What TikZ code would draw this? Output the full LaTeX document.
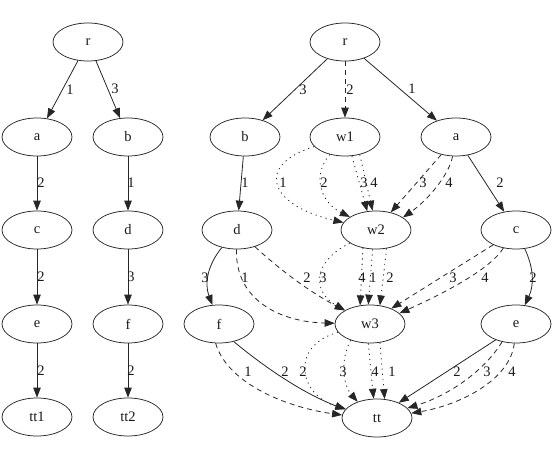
\documentclass[tikz,border=0pt]{standalone}
\usepackage{fontspec}
\setmainfont{Liberation Serif}
\usetikzlibrary{arrows.meta, shapes.geometric}

\begin{document}
\begin{tikzpicture}[x=1pt, y=1pt, every node/.style={font=\fontsize{14.5}{16}\selectfont, text=black!90}]
  \tikzset{vertex/.style={draw=black!85, line width=0.75pt, ellipse, minimum width=70pt, minimum height=38pt, inner sep=0pt},
    link/.style={draw=black!85, line width=0.8pt, -{Triangle[length=10pt, width=7.5pt]}},
    dashlink/.style={link, dash pattern=on 5pt off 4pt},
    dotlink/.style={link, dash pattern=on 1.2pt off 4pt},
    lbl/.style={inner sep=0pt}}
  \useasboundingbox (0,0) rectangle (556,-465);
  % left tree
  \node[vertex] (r1) at (88,-42) {r};
  \node[vertex] (a1) at (37,-137) {a};
  \node[vertex] (b1) at (128,-137) {b};
  \node[vertex] (c1) at (37,-230) {c};
  \node[vertex] (d1) at (128,-230) {d};
  \node[vertex] (e1) at (37,-324) {e};
  \node[vertex] (f1) at (128,-324) {f};
  \node[vertex] (tt1) at (37,-417) {tt1};
  \node[vertex] (tt2) at (128,-417) {tt2};
  \draw[link] (r1) -- (a1) node[lbl] at (70,-90) {1};
  \draw[link] (r1) -- (b1) node[lbl] at (115,-89) {3};
  \draw[link] (a1) -- (c1) node[lbl] at (41,-183) {2};
  \draw[link] (c1) -- (e1) node[lbl] at (41,-277) {2};
  \draw[link] (e1) -- (tt1) node[lbl] at (41,-371) {2};
  \draw[link] (b1) -- (d1) node[lbl] at (131,-183) {1};
  \draw[link] (d1) -- (f1) node[lbl] at (131,-277) {3};
  \draw[link] (f1) -- (tt2) node[lbl] at (131,-371) {2};
  % right graph
  \node[vertex] (r) at (345,-42) {r};
  \node[vertex] (b) at (245,-137) {b};
  \node[vertex] (w1) at (345,-137) {w1};
  \node[vertex] (a) at (456,-137) {a};
  \node[vertex] (d) at (237,-230) {d};
  \node[vertex] (w2) at (376,-230) {w2};
  \node[vertex] (c) at (516,-230) {c};
  \node[vertex] (f) at (219,-324) {f};
  \node[vertex] (w3) at (370,-324) {w3};
  \node[vertex] (e) at (516,-324) {e};
  \node[vertex] (tt) at (377,-418) {tt};
  \draw[link] (r) -- (b) node[lbl] at (303,-90) {3};
  \draw[dashlink] (r) -- (w1) node[lbl] at (350,-90) {2};
  \draw[link] (r) -- (a) node[lbl] at (412,-89) {1};
  \draw[link] (b) -- (d) node[lbl] at (245,-183) {1};
  \draw[link] (a) -- (c) node[lbl] at (500,-183) {2};
  % w1 -> w2
  \draw[dotlink] (w1) .. controls (255,-165) and (268,-205) .. (w2) node[lbl] at (283,-183) {1};
  \draw[dotlink] (w1) .. controls (312,-175) and (320,-202) .. (w2) node[lbl] at (324,-183) {2};
  \draw[dotlink] (w1.-70) -- (w2.115) node[lbl] at (364,-183) {3};
  \draw[dotlink] (w1.-50) -- (w2.100) node[lbl] at (374,-183) {4};
  % a -> w2
  \draw[dashlink] (a.-130) -- (w2.50) node[lbl] at (423,-183) {3};
  \draw[dashlink] (a.-100) .. controls (449,-175) and (428,-200) .. (w2.25) node[lbl] at (449,-183) {4};
  % d -> f, d -> w3
  \draw[link] (d) to[bend right=30] (f) node[lbl] at (205,-278) {3};
  \draw[dashlink] (d) .. controls (235,-300) and (280,-322) .. (w3) node[lbl] at (245,-278) {1};
  \draw[dashlink] (d) .. controls (280,-270) and (310,-292) .. (w3) node[lbl] at (307,-278) {2};
  % w2 -> w3
  \draw[dotlink] (w2) .. controls (312,-262) and (312,-292) .. (w3) node[lbl] at (323,-278) {3};
  \draw[dotlink] (w2.-126) -- (w3.118) node[lbl] at (362,-278) {4};
  \draw[dotlink] (w2.-100) -- (w3.95) node[lbl] at (373,-278) {1};
  \draw[dotlink] (w2.-60) -- (w3.62) node[lbl] at (390,-278) {2};
  % c -> w3, c -> e
  \draw[dashlink] (c.-147) -- (w3.36) node[lbl] at (453,-278) {3};
  \draw[dashlink] (c.-125) .. controls (490,-270) and (440,-295) .. (w3.20) node[lbl] at (485,-278) {4};
  \draw[link] (c) to[bend left=25] (e) node[lbl] at (533,-278) {2};
  % into tt
  \draw[dashlink] (f.-100) .. controls (228,-385) and (290,-408) .. (tt.175) node[lbl] at (248,-372) {1};
  \draw[link] (f.-50) .. controls (262,-365) and (300,-392) .. (tt.165) node[lbl] at (285,-372) {2};
  \draw[dotlink] (w3) .. controls (290,-345) and (298,-395) .. (tt) node[lbl] at (303,-372) {2};
  \draw[dotlink] (w3.-140) .. controls (340,-360) and (343,-385) .. (tt.140) node[lbl] at (343,-372) {3};
  \draw[dotlink] (w3.-95) -- (tt.100) node[lbl] at (375,-372) {4};
  \draw[dotlink] (w3.-62) -- (tt.68) node[lbl] at (392,-372) {1};
  \draw[link] (e.-142) -- (tt.35) node[lbl] at (457,-372) {2};
  \draw[dashlink] (e.-128) .. controls (485,-370) and (450,-395) .. (tt.18) node[lbl] at (487,-372) {3};
  \draw[dashlink] (e.-95) .. controls (510,-380) and (460,-405) .. (tt.8) node[lbl] at (512,-372) {4};
\end{tikzpicture}
\end{document}
